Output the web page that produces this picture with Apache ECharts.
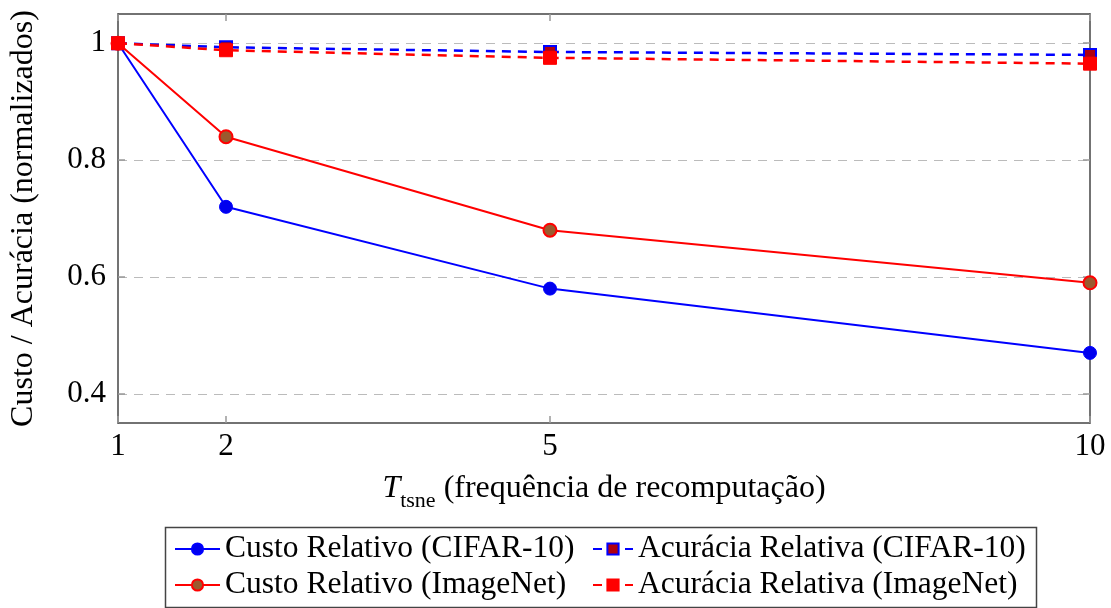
<!DOCTYPE html>
<html>
<head>
<meta charset="utf-8">
<script src="https://cdn.jsdelivr.net/npm/echarts@6/dist/echarts.min.js"></script>
<style>html,body{margin:0;padding:0;background:#fff}#c{width:1111px;height:608px}</style>
</head>
<body>
<div id="c"></div>
<script>
const xValues = [1, 2, 5, 10];
const custoCifar = [1, 0.72, 0.58, 0.47];
const acuraciaCifar = [1, 0.993, 0.985, 0.98];
const custoImageNet = [1, 0.84, 0.68, 0.59];
const acuraciaImageNet = [1, 0.988, 0.975, 0.965];
const xTicks = [1, 2, 5, 10];
const yTicks = [0.4, 0.6, 0.8, 1];
const seriesNames = [
  'Custo Relativo (CIFAR-10)',
  'Acurácia Relativa (CIFAR-10)',
  'Custo Relativo (ImageNet)',
  'Acurácia Relativa (ImageNet)'
];

const FONT = '"Liberation Serif", "DejaVu Serif", serif';
const pairs = arr => xValues.map((x, i) => [x, arr[i]]);
const chart = echarts.init(document.getElementById('c'), null, {renderer: 'canvas'});

const axisLineStyle = {color: '#444', width: 1.5};
const tickStyle = {color: '#999', width: 1.5};

function legendAt(name, left, top, w) {
  return {
    data: [name], left: left, top: top, orient: 'horizontal', padding: 0,
    itemWidth: w, itemHeight: 14, selectedMode: false,
    textStyle: {fontFamily: FONT, fontSize: 31.5, color: '#000', lineHeight: 32}
  };
}

chart.setOption({
  animation: false,
  backgroundColor: '#fff',
  grid: {left: 118, right: 21, top: 14, bottom: 185, containLabel: false},
  legend: [
    legendAt(seriesNames[0], 174, 533, 45),
    legendAt(seriesNames[1], 592, 533, 40),
    legendAt(seriesNames[2], 174, 569, 45),
    legendAt(seriesNames[3], 592, 569, 40)
  ],
  graphic: [{
    type: 'rect', shape: {x: 165.5, y: 527.5, width: 871, height: 80},
    style: {fill: 'none', stroke: '#444', lineWidth: 1.5}, z: 10
  }],
  xAxis: [{
    type: 'value', min: 1, max: 10, position: 'bottom',
    name: '{t|T}{s|tsne} (frequência de recomputação)',
    nameLocation: 'middle', nameGap: 50,
    nameTextStyle: {
      fontFamily: FONT, fontSize: 32, color: '#000',
      rich: {
        t: {fontFamily: FONT, fontSize: 32, fontStyle: 'italic', color: '#000'},
        s: {fontFamily: FONT, fontSize: 22, color: '#000', verticalAlign: 'bottom', lineHeight: 22, padding: [0, 0, -7, 0]}
      }
    },
    axisLine: {show: true, lineStyle: axisLineStyle},
    axisTick: {show: true, inside: true, length: 7, lineStyle: tickStyle, customValues: xTicks},
    axisLabel: {customValues: xTicks, fontFamily: FONT, fontSize: 31, color: '#000', margin: 8},
    splitLine: {show: false}
  }, {
    type: 'value', min: 1, max: 10, position: 'top',
    axisLine: {show: true, lineStyle: axisLineStyle},
    axisTick: {show: true, inside: true, length: 7, lineStyle: tickStyle, customValues: xTicks},
    axisLabel: {show: false},
    splitLine: {show: false}
  }],
  yAxis: [{
    type: 'value', min: 0.35, max: 1.05, position: 'left',
    name: 'Custo / Acurácia (normalizados)',
    nameLocation: 'middle', nameGap: 78, nameRotate: 90,
    nameTextStyle: {fontFamily: FONT, fontSize: 32, color: '#000'},
    axisLine: {show: true, lineStyle: axisLineStyle},
    axisTick: {show: true, inside: true, length: 7, lineStyle: tickStyle, customValues: yTicks},
    axisLabel: {customValues: yTicks, fontFamily: FONT, fontSize: 31, color: '#000', margin: 12},
    splitLine: {show: true, lineStyle: {color: '#bbb', width: 1, type: [9, 7]}}
  }, {
    type: 'value', min: 0.35, max: 1.05, position: 'right',
    axisLine: {show: true, lineStyle: axisLineStyle},
    axisTick: {show: true, inside: true, length: 7, lineStyle: tickStyle, customValues: yTicks},
    axisLabel: {show: false},
    splitLine: {show: false}
  }],
  series: [{
    name: seriesNames[0], type: 'line', data: pairs(custoCifar),
    symbol: 'circle', symbolSize: 13,
    lineStyle: {color: '#0000ff', width: 2},
    itemStyle: {color: '#0000ee', borderColor: '#0000ff', borderWidth: 1},
    z: 2
  }, {
    name: seriesNames[1], type: 'line', data: pairs(acuraciaCifar),
    symbol: 'rect', symbolSize: 12,
    lineStyle: {color: '#0000ff', width: 2.5, type: [9, 7]},
    itemStyle: {color: '#b00010', borderColor: '#0000ff', borderWidth: 2},
    z: 3
  }, {
    name: seriesNames[2], type: 'line', data: pairs(custoImageNet),
    symbol: 'circle', symbolSize: 13,
    lineStyle: {color: '#ff0000', width: 2},
    itemStyle: {color: '#9b5a2e', borderColor: '#ff0000', borderWidth: 2},
    z: 4
  }, {
    name: seriesNames[3], type: 'line', data: pairs(acuraciaImageNet),
    symbol: 'rect', symbolSize: 13,
    lineStyle: {color: '#ff0000', width: 2.5, type: [9, 7]},
    itemStyle: {color: '#ff0000', borderColor: '#ff0000', borderWidth: 1},
    z: 5
  }]
});
</script>
</body>
</html>
